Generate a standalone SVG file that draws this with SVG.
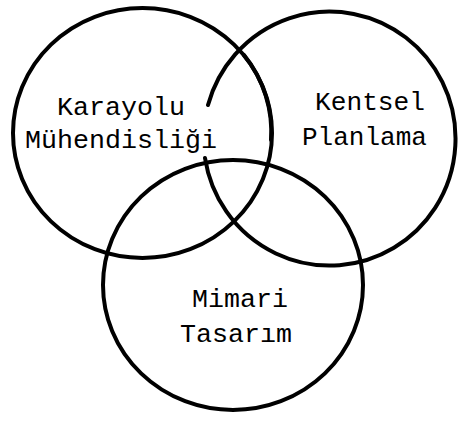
<svg xmlns="http://www.w3.org/2000/svg" width="459" height="424" viewBox="0 0 459 424">
<style>
.ring{fill:none;stroke:#000;stroke-width:4;stroke-linecap:round}
.lbl{font-family:"Liberation Mono","Courier New",monospace;font-size:26px;fill:#000}
</style>
<rect width="459" height="424" fill="#fff"/>
<g id="karayolu">
<ellipse class="ring" cx="142.5" cy="133" rx="129.5" ry="125"/>
<path class="ring" d="M 244 55 A 129.5 125 0 0 1 271 140" stroke-width="6.5"/>
<text class="lbl" x="57" y="115" textLength="128" lengthAdjust="spacingAndGlyphs">Karayolu</text>
<text class="lbl" x="25" y="148" textLength="192" lengthAdjust="spacingAndGlyphs">Mühendisliği</text>
</g>
<g id="kentsel">
<path class="ring" d="M 208 105 A 126 127 0 1 1 205 158"/>
<text class="lbl" x="315" y="110" textLength="110" lengthAdjust="spacingAndGlyphs">Kentsel</text>
<text class="lbl" x="302" y="145" textLength="125" lengthAdjust="spacingAndGlyphs">Planlama</text>
</g>
<g id="mimari">
<ellipse class="ring" cx="233" cy="285" rx="130" ry="125"/>
<text class="lbl" x="192" y="307" textLength="96" lengthAdjust="spacingAndGlyphs">Mimari</text>
<text class="lbl" x="180" y="342" textLength="112" lengthAdjust="spacingAndGlyphs">Tasarım</text>
</g>
<g id="connectors"/>
</svg>
